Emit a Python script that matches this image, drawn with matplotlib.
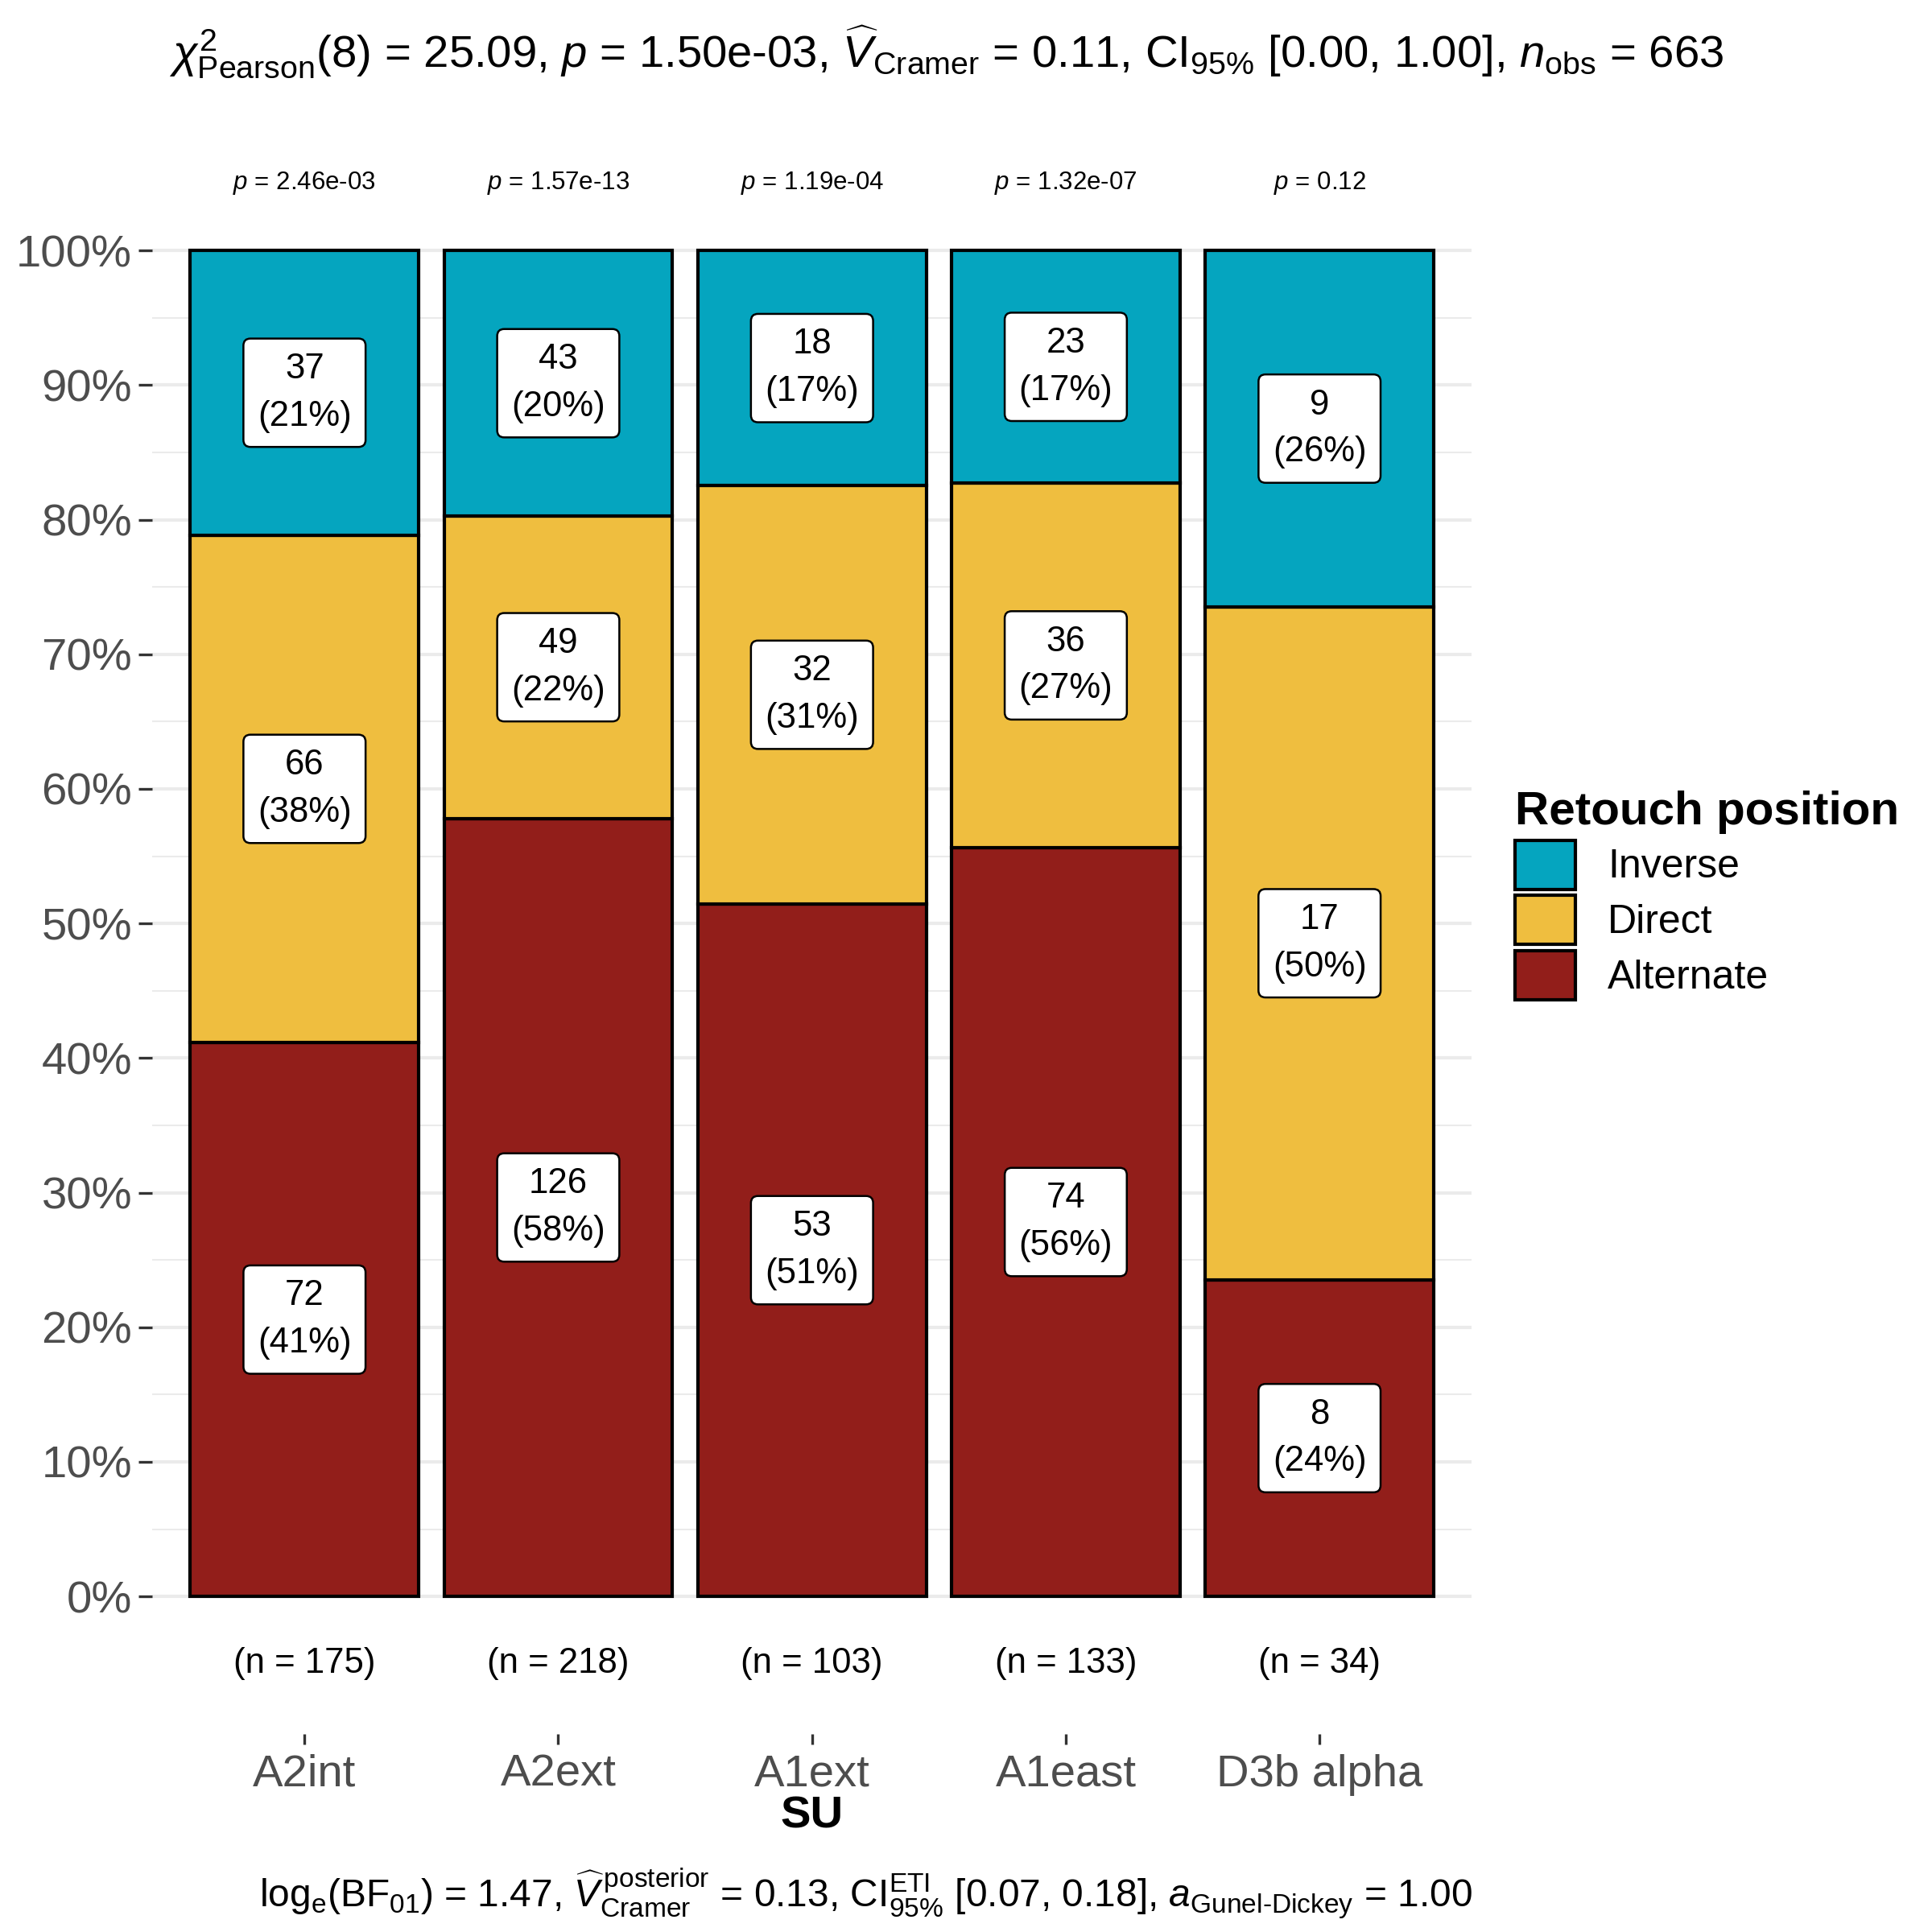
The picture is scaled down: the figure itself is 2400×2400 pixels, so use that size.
import matplotlib.pyplot as plt
import matplotlib as mpl
import numpy as np
from matplotlib.patches import Patch

mpl.rcParams['font.family'] = ['Liberation Sans', 'DejaVu Sans']
mpl.rcParams['mathtext.fontset'] = 'custom'
mpl.rcParams['mathtext.rm'] = 'Liberation Sans'
mpl.rcParams['mathtext.it'] = 'Liberation Sans:italic'
mpl.rcParams['mathtext.bf'] = 'Liberation Sans:bold'

groups = ['A2int', 'A2ext', 'A1ext', 'A1east', 'D3b alpha']
alternate = [72, 126, 53, 74, 8]
direct = [66, 49, 32, 36, 17]
inverse = [37, 43, 18, 23, 9]
p_values = ['2.46e-03', '1.57e-13', '1.19e-04', '1.32e-07', '0.12']
series_names = ['Alternate', 'Direct', 'Inverse']
colors = ['#921e1a', '#efbe3f', '#05a5bf']

counts = np.array([alternate, direct, inverse], dtype=float)
totals = counts.sum(axis=0)
props = counts / totals

fig = plt.figure(figsize=(8, 8), dpi=300)
ax = fig.add_axes([0.0788, 0.1026, 0.683, 0.8026])
x = np.arange(1, len(groups) + 1)

bottom = np.zeros(len(groups))
for i in range(3):
    ax.bar(x, props[i], 0.9, bottom=bottom, color=colors[i], edgecolor='black', linewidth=1, zorder=3)
    for j in range(len(groups)):
        ax.text(x[j], bottom[j] + props[i][j] / 2, f'{int(counts[i][j])}\n({props[i][j]*100:.0f}%)',
                ha='center', va='center', fontsize=10.5, linespacing=1.55, zorder=4,
                bbox=dict(boxstyle='round,pad=0.4,rounding_size=0.2', fc='white', ec='black', lw=0.6))
    bottom += props[i]

for j in range(len(groups)):
    ax.text(x[j], 1.05, f'$p$ = {p_values[j]}', ha='center', va='center', fontsize=7.5)
    ax.text(x[j], -0.05, f'(n = {int(totals[j])})', ha='center', va='center', fontsize=10.5)

ax.set_xlim(0.4, 5.6)
ax.set_ylim(-0.102, 1.05)
ax.set_yticks(np.arange(0, 1.01, 0.1))
ax.set_yticks(np.arange(0.05, 1.0, 0.1), minor=True)
ax.set_yticklabels([f'{v}%' for v in range(0, 101, 10)], fontsize=13.5, color='#4d4d4d')
ax.set_xticks(x)
ax.set_xticklabels(groups, fontsize=13.5, color='#4d4d4d')
ax.tick_params(axis='x', length=3, pad=3, color='#333333')
ax.tick_params(axis='y', length=4, pad=2, color='#333333')
ax.tick_params(axis='y', which='minor', length=0)
ax.grid(axis='y', which='major', color='#ebebeb', lw=1, zorder=0)
ax.grid(axis='y', which='minor', color='#ebebeb', lw=0.5, zorder=0)
ax.grid(axis='x', visible=False)
for s in ax.spines.values():
    s.set_visible(False)
ax.set_xlabel('SU', fontsize=13.5, fontweight='bold', labelpad=0)

fig.text(0.49, 0.973,
         r'$\chi^2_{\mathrm{Pearson}}$(8) = 25.09, $p$ = 1.50e-03, $\widehat{V}_{\mathrm{Cramer}}$ = 0.11, '
         r'CI$_{95\%}$ [0.00, 1.00], $n_{\mathrm{obs}}$ = 663',
         ha='center', va='center', fontsize=13.5)
fig.text(0.762, 0.02,
         r'log$_{\mathrm{e}}$(BF$_{01}$) = 1.47, $\widehat{V}^{\,\mathrm{posterior}}_{\mathrm{Cramer}}$ = 0.13, '
         r'CI$^{\mathrm{ETI}}_{95\%}$ [0.07, 0.18], $a_{\mathrm{Gunel\text{-}Dickey}}$ = 1.00',
         ha='right', va='center', fontsize=11.5)

handles = [Patch(facecolor=colors[i], edgecolor='black', label=series_names[i]) for i in [2, 1, 0]]
leg = fig.legend(handles=handles, title='Retouch position', loc='upper left',
                 bbox_to_anchor=(0.78, 0.595), frameon=False, fontsize=12,
                 title_fontproperties={'weight': 'bold', 'size': 14},
                 handlelength=1.5, handleheight=1.5, labelspacing=0.15, handletextpad=0.8,
                 borderaxespad=0, borderpad=0.2)
leg._legend_box.align = 'left'

fig.savefig('out.png', dpi=300, facecolor='white')
